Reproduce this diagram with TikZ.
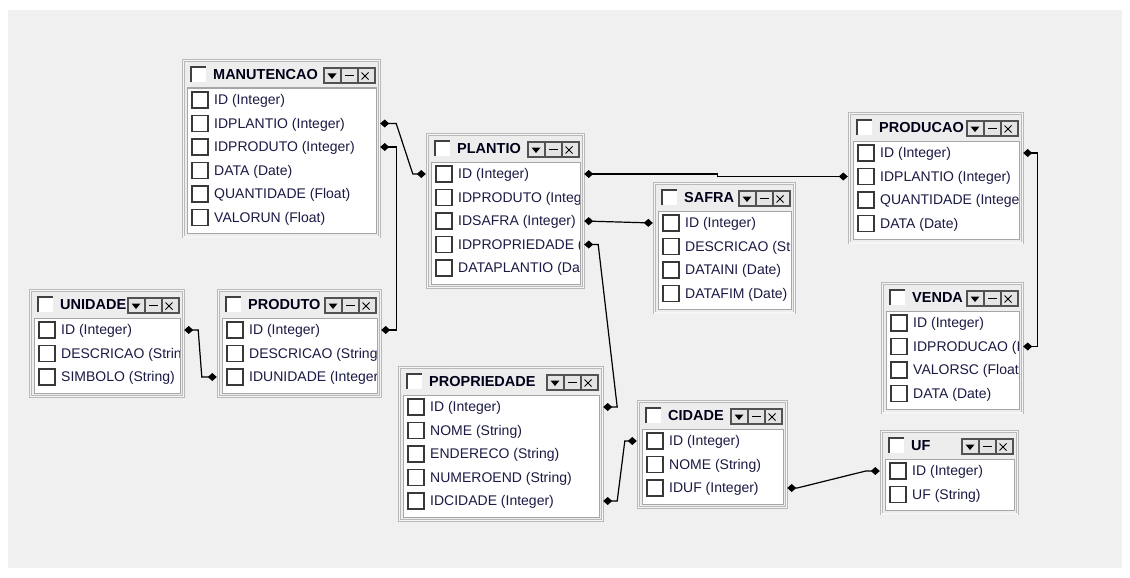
\documentclass[tikz,border=0pt]{standalone}
\usepackage{fontspec}
\setmainfont{Liberation Sans}
\usetikzlibrary{arrows.meta, calc}

\definecolor{canvasgray}{HTML}{F0F0F0}
\definecolor{framegray}{HTML}{B9B9B9}
\definecolor{fieldtext}{HTML}{1A1A44}
\definecolor{btnfill}{HTML}{E4E4E4}

% one table window: name, x, y, width, number of fields, title, fields
\newcommand{\dbtable}[7]{%
  \pgfmathsetmacro{\tbH}{59+(#5-1)*23.5}
  % window frame and field panel
  \node (#1) [tableframe, minimum width=#4pt, minimum height=\tbH pt, anchor=north west] at (#2,#3) {};
  \draw[panelbox] (#2+4,#3+28) rectangle (#2+#4-3,#3+\tbH-3);
  % title bar: checkbox, name, buttons
  \fill[white] (#2+8,#3+7) rectangle ++(15,15);
  \draw[darkedge] (#2+8,#3+22) -- (#2+8,#3+7) -- (#2+23,#3+7);
  \node (#1_title) [titlestyle, anchor=west] at (#2+30,#3+15) {#6};
  \foreach \b in {0,1,2}
    \draw[buttonbox] (#2+#4-55+17*\b,#3+8) rectangle ++(17,15);
  \fill (#2+#4-51.5,#3+13.5) -- ++(9,0) -- ++(-4.5,5.5) -- cycle;
  \draw[line width=1.1pt] (#2+#4-34,#3+15.5) -- ++(9,0);
  \draw[line width=0.9pt] (#2+#4-17.5,#3+12.5) -- ++(7,7) (#2+#4-17.5,#3+19.5) -- ++(7,-7);
  % fields, cut at the panel edge
  \begin{scope}
    \clip (#2+5,#3+29) rectangle (#2+#4-4,#3+\tbH-4);
    \foreach \fld [count=\k] in {#7} {
      \pgfmathsetmacro{\rowy}{#3+40+(\k-1)*23.5}
      \draw[fieldcheck] (#2+9,\rowy-8) rectangle ++(16,16);
      \node (#1_\k_text) [fieldstyle, anchor=west] at (#2+31,\rowy+1) {\fld};
    }
  \end{scope}
  % invisible rows, their ends touch the frame
  \foreach \fld [count=\k] in {#7} {
    \pgfmathsetmacro{\rowy}{#3+40+(\k-1)*23.5}
    \node (#1_\k) [rowspan, minimum width=#4pt+2pt] at (#2+#4/2,\rowy) {};
  }
}

\begin{document}
\begin{tikzpicture}[
    x=1pt, y=-1pt,
    tableframe/.style={draw=framegray, double=white!96!black, double distance=1.2pt, line width=0.8pt, fill=white!93!black, inner sep=0pt},
    panelbox/.style={draw=black!35, line width=1pt, fill=white},
    darkedge/.style={draw=black!75, line width=1.3pt},
    buttonbox/.style={draw=black!68, line width=1.1pt, fill=btnfill},
    fieldcheck/.style={draw=black!78, line width=1.4pt, fill=white},
    titlestyle/.style={font=\fontsize{14.5}{16}\selectfont\bfseries, text=black!90!blue, inner sep=0pt},
    fieldstyle/.style={font=\fontsize{14}{16}\selectfont, text=fieldtext, inner sep=0pt},
    rowspan/.style={inner sep=0pt, minimum height=16pt},
    conn/.style={line width=1.2pt, {Diamond[length=9pt, width=8pt]}-{Diamond[length=9pt, width=8pt]}}
]

% canvas
\useasboundingbox (0,0) rectangle (1130,578);
\fill[white] (0,0) rectangle (1130,578);
\fill[canvasgray] (8,10) rectangle (1122,568);

% tables
\dbtable{manutencao}{183}{60}{196}{6}{MANUTENCAO}{ID (Integer), IDPLANTIO (Integer), IDPRODUTO (Integer), DATA (Date), QUANTIDADE (Float), VALORUN (Float)}
\dbtable{unidade}{30}{290}{153}{3}{UNIDADE}{ID (Integer), DESCRICAO (String), SIMBOLO (String)}
\dbtable{produto}{218}{290}{162}{3}{PRODUTO}{ID (Integer), DESCRICAO (String), IDUNIDADE (Integer)}
\dbtable{plantio}{427}{134}{156}{5}{PLANTIO}{ID (Integer), IDPRODUTO (Integer), IDSAFRA (Integer), IDPROPRIEDADE (Integer), DATAPLANTIO (Date)}
\dbtable{safra}{654}{183}{140}{4}{SAFRA}{ID (Integer), DESCRICAO (String), DATAINI (Date), DATAFIM (Date)}
\dbtable{producao}{849}{113}{173}{4}{PRODUCAO}{ID (Integer), IDPLANTIO (Integer), QUANTIDADE (Integer), DATA (Date)}
\dbtable{venda}{882}{283}{140}{4}{VENDA}{ID (Integer), IDPRODUCAO (Integer), VALORSC (Float), DATA (Date)}
\dbtable{propriedade}{399}{367}{203}{5}{PROPRIEDADE}{ID (Integer), NOME (String), ENDERECO (String), NUMEROEND (String), IDCIDADE (Integer)}
\dbtable{cidade}{638}{401}{148}{3}{CIDADE}{ID (Integer), NOME (String), IDUF (Integer)}
\dbtable{uf}{881}{431}{136}{2}{UF}{ID (Integer), UF (String)}

% relations
\draw[conn] (manutencao_2.east) -- ++(16,0) -- ($(plantio_1.west)+(-13,0)$) -- (plantio_1.west);
\draw[conn] (manutencao_3.east) -- ++(16,0) |- (produto_1.east);
\draw[conn] (unidade_1.east) -- ++(14,0) -- ($(produto_3.west)+(-15,0)$) -- (produto_3.west);
\draw[conn] (plantio_1.east) -- ++(133,0) |- (producao_2.west);
\draw[conn] (plantio_3.east) -- (safra_1.west);
\draw[conn] (plantio_4.east) -- ++(14,0) -- ($(propriedade_1.east)+(14,0)$) -- (propriedade_1.east);
\draw[conn] (propriedade_5.east) -- ++(14,0) -- ($(cidade_1.west)+(-12,0)$) -- (cidade_1.west);
\draw[conn] (cidade_3.east) -- ++(10,0) -- ($(uf_1.west)+(-14,0)$) -- (uf_1.west);
\draw[conn] (producao_1.east) -- ++(14,0) |- (venda_2.east);

\end{tikzpicture}
\end{document}
